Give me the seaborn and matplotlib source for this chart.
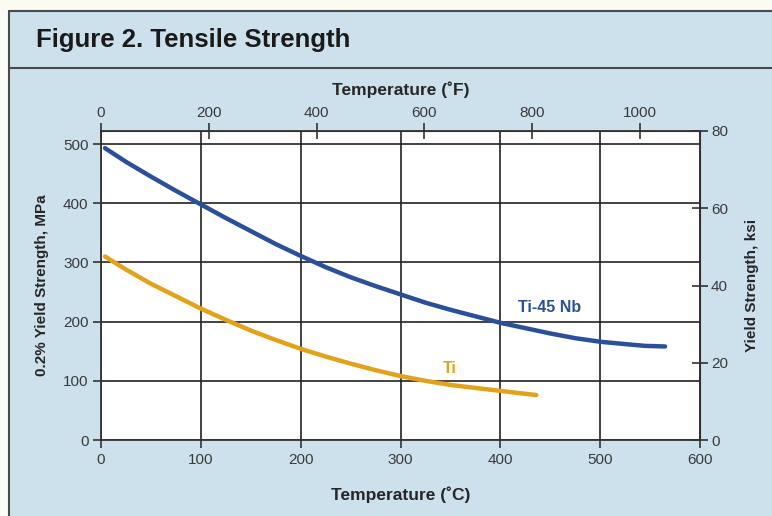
import matplotlib.pyplot as plt
import pandas as pd
import seaborn as sns
from matplotlib.lines import Line2D
from matplotlib.patches import Rectangle

# ==========================
# Datos
# ==========================
temp_nb = [4, 25, 50, 75, 100, 125, 150, 175, 200, 225, 250, 275, 300,
           325, 350, 375, 400, 425, 450, 475, 500, 525, 545, 565]
mpa_nb = [493, 470, 445, 421, 398, 375, 353, 331, 311, 292, 275, 260, 246,
          232, 220, 209, 198, 189, 180, 172, 166, 162, 159, 158]

temp_ti = [4, 25, 50, 75, 100, 125, 150, 175, 200, 225, 250, 275, 300,
           325, 350, 375, 400, 420, 436]
mpa_ti = [310, 288, 264, 243, 222, 203, 185, 169, 154, 141, 129, 118, 108,
          100, 93, 88, 83, 79, 76]

c_ticks = [0, 100, 200, 300, 400, 500, 600]
f_ticks = [0, 200, 400, 600, 800, 1000]
mpa_ticks = [0, 100, 200, 300, 400, 500]
ksi_ticks = [0, 20, 40, 60, 80]

df = pd.concat([
    pd.DataFrame({"temp": temp_nb, "mpa": mpa_nb, "aleacion": "Ti-45 Nb"}),
    pd.DataFrame({"temp": temp_ti, "mpa": mpa_ti, "aleacion": "Ti"}),
])

BG = "#cde1ed"
AZUL = "#2a4f9b"
ORO = "#e2a31b"
GRIS = "#3a3a3a"

sns.set_style("ticks")
plt.rcParams["font.family"] = ["Liberation Sans", "DejaVu Sans"]

fig = plt.figure(figsize=(7.72, 5.16), dpi=100)
fig.patch.set_facecolor("#fbfbf4")

# fondo azul y marco
W, H = 772, 516
fig.patches.append(Rectangle((9 / W, 0), 1, 1 - 11 / H, transform=fig.transFigure,
                             facecolor=BG, edgecolor="none", zorder=-5))
fig.lines.append(Line2D([9 / W, 9 / W], [0, 1 - 11 / H], transform=fig.transFigure,
                        color="#4a4a4a", lw=1.5))
fig.lines.append(Line2D([9 / W, 1], [1 - 11 / H, 1 - 11 / H], transform=fig.transFigure,
                        color="#4a4a4a", lw=1.5))
fig.lines.append(Line2D([9 / W, 1], [1 - 68 / H, 1 - 68 / H], transform=fig.transFigure,
                        color="#4a4a4a", lw=1.5))
fig.text(36 / W, 1 - 40 / H, "Figure 2. Tensile Strength", fontsize=18.5,
         fontweight="bold", va="center", ha="left", color="#1a1a1a")

ax = fig.add_axes([101 / W, 1 - 440 / H, 599 / W, 309 / H])
ax.set_facecolor("white")

sns.lineplot(data=df, x="temp", y="mpa", hue="aleacion",
             palette={"Ti-45 Nb": AZUL, "Ti": ORO}, lw=3.2,
             legend=False, ax=ax, zorder=5)

ax.set_xlim(0, 600)
ax.set_ylim(0, 522)
ax.set_xticks(c_ticks)
ax.set_yticks(mpa_ticks)
ax.grid(True, color="#222222", lw=1.2)
for s in ax.spines.values():
    s.set_color("#333333")
    s.set_linewidth(1.3)
ax.tick_params(axis="both", direction="out", length=6, width=1.2, color="#333333",
               labelsize=11, labelcolor=GRIS, pad=3)

ax.set_xlabel("Temperature (˚C)", fontsize=12.5, fontweight="bold", labelpad=14)
ax.set_ylabel("0.2% Yield Strength, MPa", fontsize=11, fontweight="bold", labelpad=10)

# eje superior en °F
top = ax.secondary_xaxis("top", functions=(lambda c: c * 200 / 108, lambda f: f * 108 / 200))
top.set_xticks(f_ticks)
top.tick_params(direction="inout", length=12, width=1.2, color="#333333",
                labelsize=11, labelcolor=GRIS, pad=2)
top.set_xlabel("Temperature (˚F)", fontsize=12.5, fontweight="bold", labelpad=8)

# eje derecho en ksi
der = ax.secondary_yaxis("right", functions=(lambda m: m * 80 / 522, lambda k: k * 522 / 80))
der.set_yticks(ksi_ticks)
der.tick_params(direction="inout", length=12, width=1.2, color="#333333",
                labelsize=11, labelcolor=GRIS, pad=2)
der.set_ylabel("Yield Strength, ksi", fontsize=11, fontweight="bold", labelpad=12)

ax.text(449, 224, "Ti-45 Nb", color=AZUL, fontsize=11.5, fontweight="bold",
        ha="center", va="center", zorder=6)
ax.text(349, 120, "Ti", color=ORO, fontsize=11.5, fontweight="bold",
        ha="center", va="center", zorder=6)

plt.savefig("out.png", dpi=100, facecolor=fig.get_facecolor())
